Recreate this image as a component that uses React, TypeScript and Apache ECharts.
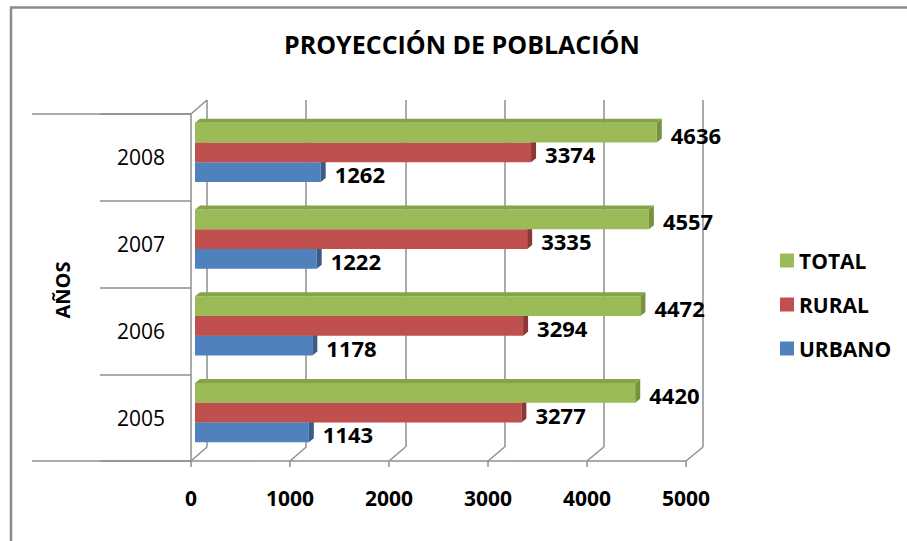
import React, { useEffect, useRef } from 'react';
import * as echarts from 'echarts';

const categories = ['2005', '2006', '2007', '2008'];
const urbano = [1143, 1178, 1222, 1262];
const rural = [3277, 3294, 3335, 3374];
const total = [4420, 4472, 4557, 4636];
const xTicks = [0, 1000, 2000, 3000, 4000, 5000];
const legendOrder = ['TOTAL', 'RURAL', 'URBANO'];
const chartTitle = 'PROYECCIÓN DE POBLACIÓN';
const yAxisName = 'AÑOS';

const FONT = '"Open Sans", "Noto Sans", sans-serif';
const GRAY = '#8f8f8f';
const FRONT = { left: 191, top: 114, width: 495, height: 347 };
const BACK = { left: 207, top: 100, width: 496, height: 347 };
const BARS = { left: 195, top: 109, width: 498, height: 347 };
const DX = 5;
const DY = -4;

const palette: Record<string, { front: string; side: string; top: string }> = {
  URBANO: { front: '#4F81BD', side: '#385D8A', top: '#6a93c8' },
  RURAL: { front: '#C0504D', side: '#8C3836', top: '#cd6f6c' },
  TOTAL: { front: '#9BBB59', side: '#76923C', top: '#84a447' },
};

function makeSeries(name: string, values: number[], idx: number) {
  const c = palette[name];
  return {
    type: 'custom',
    name,
    coordinateSystem: 'cartesian2d',
    xAxisIndex: 2,
    yAxisIndex: 2,
    itemStyle: { color: c.front },
    encode: { x: 0, y: 1 },
    z: 10 + idx,
    data: values.map((v, i) => [v, i]),
    renderItem: (params: any, api: any) => {
      const val = api.value(0);
      const cat = api.value(1);
      const p1 = api.coord([val, cat]);
      const p0 = api.coord([0, cat]);
      const band = api.size([0, 1])[1];
      const t = band * 0.227;
      const yc = p1[1] + (1 - idx) * t;
      const yt = yc - t / 2;
      const yb = yc + t / 2;
      const x0 = p0[0];
      const x1 = p1[0];
      return {
        type: 'group',
        children: [
          { type: 'rect', shape: { x: x0, y: yt, width: x1 - x0, height: t }, style: { fill: c.front } },
          {
            type: 'polygon',
            shape: { points: [[x0, yt], [x1, yt], [x1 + DX, yt + DY], [x0 + DX, yt + DY]] },
            style: { fill: c.top },
          },
          {
            type: 'polygon',
            shape: { points: [[x1, yt], [x1 + DX, yt + DY], [x1 + DX, yb + DY], [x1, yb]] },
            style: { fill: c.side },
          },
          {
            type: 'text',
            x: x1 + 14,
            y: yc + 2,
            z2: 100,
            style: {
              text: String(val),
              fill: '#000',
              fontSize: 22,
              fontWeight: 'bold',
              fontFamily: FONT,
              align: 'left',
              verticalAlign: 'middle',
            },
          },
        ],
      };
    },
  };
}

export default function App() {
  const ref = useRef<HTMLDivElement>(null);
  useEffect(() => {
    if (!ref.current) return;
    const chart = echarts.init(ref.current, undefined, { renderer: 'svg' });
    const hiddenCat = { type: 'category', data: categories, show: false };
    chart.setOption({
      animation: false,
      backgroundColor: '#fff',
      textStyle: { fontFamily: FONT },
      title: {
        text: chartTitle,
        left: 284,
        top: 31,
        padding: 0,
        textStyle: { fontSize: 25, fontWeight: 'bold', color: '#000', fontFamily: FONT },
      },
      legend: {
        data: legendOrder,
        orient: 'vertical',
        left: 780,
        top: 250,
        padding: 0,
        icon: 'rect',
        itemWidth: 14,
        itemHeight: 14,
        itemGap: 23,
        textStyle: { fontSize: 21, fontWeight: 'bold', color: '#000', fontFamily: FONT, lineHeight: 21 },
      },
      grid: [
        { ...FRONT, containLabel: false },
        { ...BACK, containLabel: false },
        { ...BARS, containLabel: false },
      ],
      xAxis: [
        {
          gridIndex: 0,
          type: 'value',
          min: 0,
          max: 5000,
          interval: 1000,
          axisLine: { show: true, lineStyle: { color: GRAY, width: 1.5 } },
          axisTick: { show: true, length: 6, lineStyle: { color: GRAY, width: 1.5 } },
          axisLabel: {
            fontSize: 21,
            fontWeight: 'bold',
            color: '#000',
            margin: 26,
            fontFamily: FONT,
            formatter: (v: number) => String(v),
          },
          splitLine: { show: false },
        },
        {
          gridIndex: 1,
          type: 'value',
          min: 0,
          max: 5000,
          interval: 1000,
          axisLine: { show: false },
          axisTick: { show: false },
          axisLabel: { show: false },
          splitLine: { show: true, lineStyle: { color: GRAY, width: 1.5 } },
        },
        { gridIndex: 2, type: 'value', min: 0, max: 5000, show: false },
      ],
      yAxis: [
        {
          gridIndex: 0,
          type: 'category',
          data: categories,
          axisLine: { show: true, lineStyle: { color: GRAY, width: 1.5 } },
          axisTick: { show: true, length: 91, lineStyle: { color: GRAY, width: 1.5 } },
          axisLabel: { fontSize: 21, color: '#000', margin: 26, fontFamily: FONT },
          splitLine: { show: false },
        },
        { gridIndex: 1, ...hiddenCat },
        { gridIndex: 2, ...hiddenCat },
      ],
      series: [makeSeries('URBANO', urbano, 0), makeSeries('RURAL', rural, 1), makeSeries('TOTAL', total, 2)],
    });

    const fb = FRONT.top + FRONT.height;
    const bb = BACK.top + BACK.height;
    const lineStyle = { stroke: GRAY, lineWidth: 1.5 };
    const graphics: any[] = [
      { type: 'line', shape: { x1: 10, y1: 7.5, x2: 907, y2: 7.5 }, style: { stroke: '#8a8a8a', lineWidth: 2.5 } },
      { type: 'line', shape: { x1: 11, y1: 7, x2: 11, y2: 541 }, style: { stroke: '#8a8a8a', lineWidth: 2.5 } },
      { type: 'line', shape: { x1: 32, y1: FRONT.top, x2: FRONT.left, y2: FRONT.top }, style: lineStyle },
      { type: 'line', shape: { x1: 32, y1: fb, x2: FRONT.left, y2: fb }, style: lineStyle },
      {
        type: 'line',
        shape: { x1: FRONT.left, y1: FRONT.top, x2: BACK.left, y2: BACK.top },
        style: lineStyle,
      },
      {
        type: 'text',
        x: 62,
        y: 290,
        rotation: Math.PI / 2,
        style: {
          text: yAxisName,
          fill: '#000',
          fontSize: 20,
          fontWeight: 'bold',
          fontFamily: FONT,
          align: 'center',
          verticalAlign: 'middle',
        },
      },
    ];
    xTicks.forEach((v) => {
      const xf = chart.convertToPixel({ xAxisIndex: 0 }, v) as number;
      const xb = chart.convertToPixel({ xAxisIndex: 1 }, v) as number;
      graphics.push({ type: 'line', shape: { x1: xf, y1: fb, x2: xb, y2: bb }, style: lineStyle });
    });
    chart.setOption({ graphic: graphics });
    return () => chart.dispose();
  }, []);
  return <div ref={ref} style={{ position: 'fixed', left: 0, top: 0, width: 907, height: 541 }} />;
}
